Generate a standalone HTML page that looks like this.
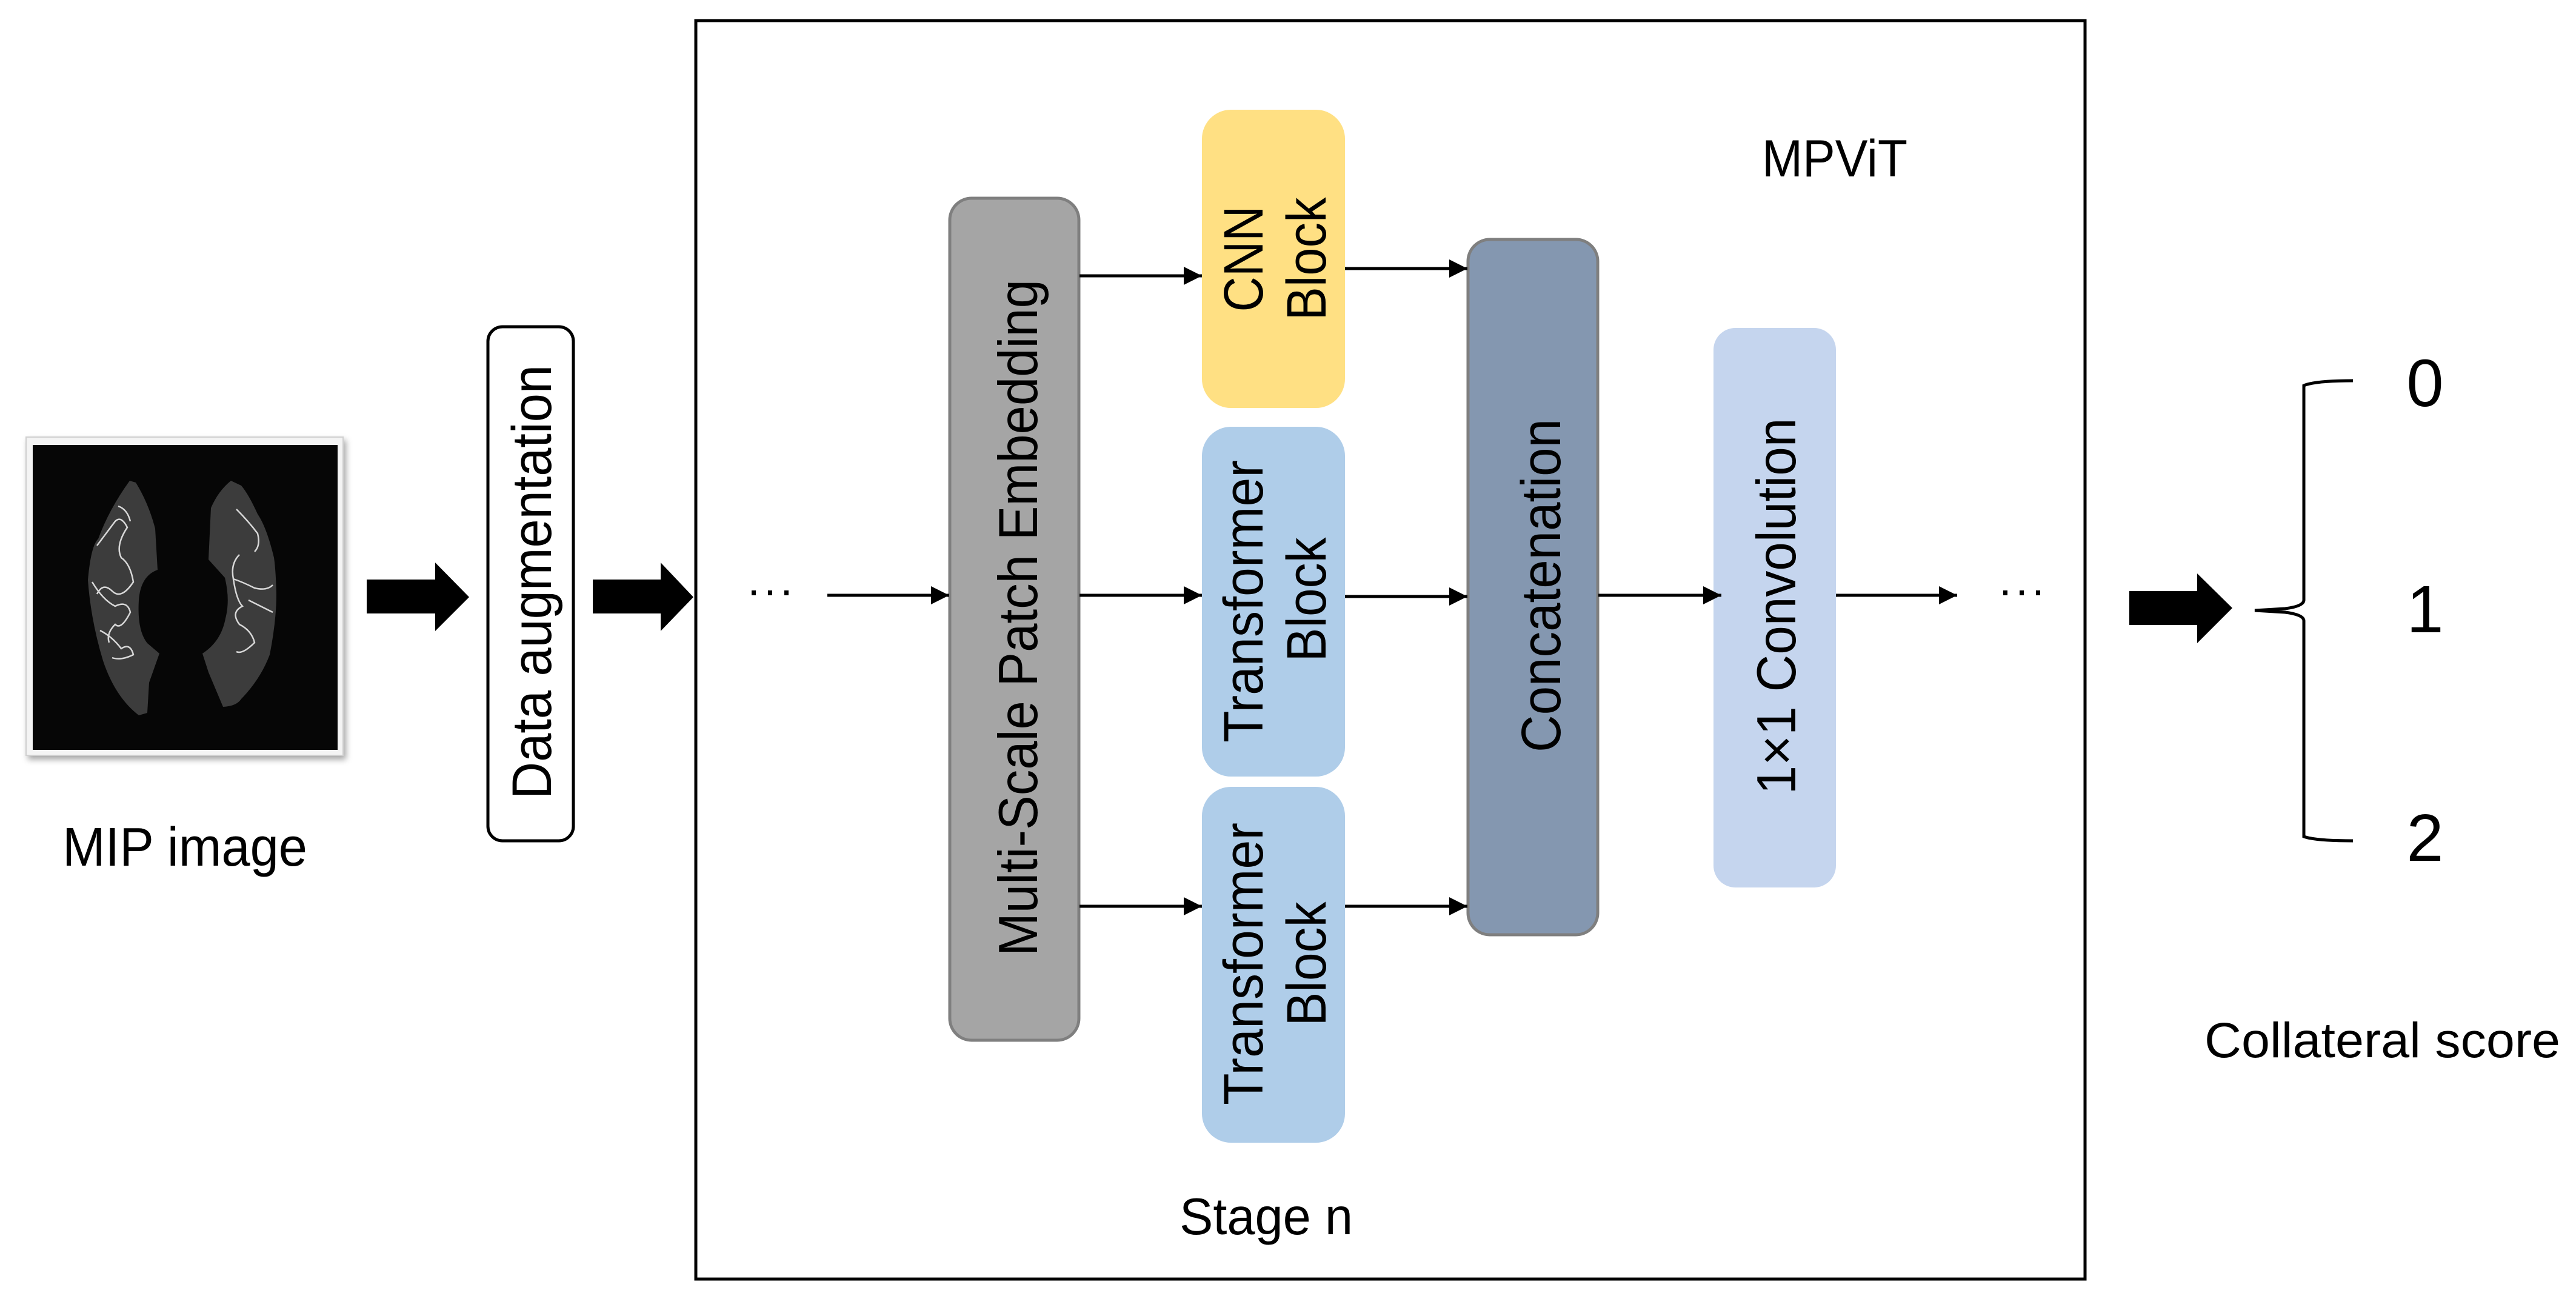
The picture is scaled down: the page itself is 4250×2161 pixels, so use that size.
<!DOCTYPE html>
<html><head><meta charset="utf-8"><style>
html,body{margin:0;padding:0;background:#fff;}
svg{display:block;}
text{font-family:"Liberation Sans",Arial,sans-serif;fill:#000;}
</style></head><body>
<svg width="4250" height="2161" viewBox="0 0 4250 2161" xmlns="http://www.w3.org/2000/svg">
<defs>
<marker id="ah" markerWidth="6" markerHeight="6" refX="6" refY="3" orient="auto" markerUnits="strokeWidth">
<path d="M0,0 L6,3 L0,6 Z" fill="#000"/>
</marker>
<filter id="sh" x="-5%" y="-5%" width="115%" height="115%"><feDropShadow dx="4" dy="6" stdDeviation="5" flood-color="#000" flood-opacity="0.35"/></filter>
</defs>
<rect width="4250" height="2161" fill="#fff"/>

<!-- MIP image -->
<rect x="43" y="721" width="523" height="525" fill="#f4f4f4" stroke="#d0d0d0" stroke-width="2" filter="url(#sh)"/>
<rect x="54" y="734" width="503" height="503" fill="#060606"/>
<path d="M214,793 L224,796 Q245,830 256,872 L260,940 Q232,950 229,990 Q226,1040 243,1061 L263,1078 L246,1126 L243,1176 L229,1180 Q190,1150 170,1090 Q150,1024 145,957 Q150,900 162,889 Q180,840 214,793 Z" fill="#3c3c3c"/>
<path d="M381,793 Q360,810 348,838 L344,923 L371,953 Q380,990 372,1020 Q365,1058 334,1078 L344,1109 L368,1166 Q390,1165 398,1153 Q430,1120 445,1080 Q456,1024 456,980 Q455,940 452,920 Q440,870 425,848 Q410,815 398,801 Z" fill="#3c3c3c"/>
<g fill="none" stroke="#d8d8d8" stroke-width="2.5">
<path d="M160,900 Q175,880 190,860 Q200,850 210,870 Q190,900 200,920 Q215,930 220,960 Q200,990 185,975 Q170,960 160,980"/>
<path d="M152,960 Q170,990 190,1000 Q210,990 215,1010 Q200,1040 190,1030 Q175,1045 180,1060"/>
<path d="M165,1040 Q185,1050 200,1070 Q215,1060 220,1080 Q200,1090 185,1085"/>
<path d="M195,835 Q210,840 215,860"/>
<path d="M390,840 Q410,860 425,880 Q430,900 420,910"/>
<path d="M395,915 Q380,930 385,955 Q400,960 420,970 Q440,975 450,965"/>
<path d="M385,955 Q390,990 400,1000 Q380,1010 395,1030 Q415,1040 420,1060 Q400,1080 390,1075"/>
<path d="M410,990 Q430,1000 450,1010"/>
</g>

<!-- Label MIP -->
<text x="103" y="1428" font-size="90" textLength="404" lengthAdjust="spacingAndGlyphs">MIP image</text>

<!-- Thick arrow 1 -->
<path d="M605,956 L718,956 L718,928 L774,985 L718,1041 L718,1012 L605,1012 Z" fill="#000"/>
<!-- Data augmentation box -->
<rect x="805" y="539" width="141" height="848" rx="24" fill="#fff" stroke="#000" stroke-width="5"/>
<text transform="translate(876,960) rotate(-90)" y="33" text-anchor="middle" font-size="92" textLength="716" lengthAdjust="spacingAndGlyphs">Data augmentation</text>
<!-- Thick arrow 2 -->
<path d="M978,956 L1090,956 L1090,928 L1144,985 L1090,1041 L1090,1012 L978,1012 Z" fill="#000"/>

<!-- Main frame -->
<rect x="1148" y="34" width="2292" height="2076" fill="none" stroke="#000" stroke-width="5"/>
<text x="2907" y="291" font-size="86" textLength="240" lengthAdjust="spacingAndGlyphs">MPViT</text>
<text x="1946" y="2036" font-size="85" textLength="286" lengthAdjust="spacingAndGlyphs">Stage n</text>

<!-- dots -->
<g fill="#000">
<rect x="1240" y="974" width="7" height="8"/><rect x="1267" y="974" width="7" height="8"/><rect x="1294" y="974" width="7" height="8"/>
<rect x="3305" y="974" width="7" height="8"/><rect x="3332" y="974" width="7" height="8"/><rect x="3359" y="974" width="7" height="8"/>
</g>

<!-- Multi-Scale Patch Embedding -->
<rect x="1567" y="327" width="213" height="1389" rx="36" fill="#a5a5a5" stroke="#7f7f7f" stroke-width="5"/>
<text transform="translate(1678,1019) rotate(-90)" y="33" text-anchor="middle" font-size="91" textLength="1116" lengthAdjust="spacingAndGlyphs">Multi-Scale Patch Embedding</text>

<!-- CNN block -->
<rect x="1983" y="181" width="236" height="492" rx="48" fill="#ffe083"/>
<text transform="translate(2050,427) rotate(-90)" y="33" text-anchor="middle" font-size="92" textLength="175" lengthAdjust="spacingAndGlyphs">CNN</text>
<text transform="translate(2154,427) rotate(-90)" y="33" text-anchor="middle" font-size="92" textLength="203" lengthAdjust="spacingAndGlyphs">Block</text>

<!-- Transformer 1 -->
<rect x="1983" y="704" width="236" height="577" rx="48" fill="#afcde9"/>
<text transform="translate(2050,992) rotate(-90)" y="33" text-anchor="middle" font-size="92" textLength="466" lengthAdjust="spacingAndGlyphs">Transformer</text>
<text transform="translate(2154,989) rotate(-90)" y="33" text-anchor="middle" font-size="92" textLength="205" lengthAdjust="spacingAndGlyphs">Block</text>

<!-- Transformer 2 -->
<rect x="1983" y="1298" width="236" height="587" rx="48" fill="#afcde9"/>
<text transform="translate(2050,1590) rotate(-90)" y="33" text-anchor="middle" font-size="92" textLength="466" lengthAdjust="spacingAndGlyphs">Transformer</text>
<text transform="translate(2154,1590) rotate(-90)" y="33" text-anchor="middle" font-size="92" textLength="205" lengthAdjust="spacingAndGlyphs">Block</text>

<!-- Concatenation -->
<rect x="2422" y="395" width="214" height="1147" rx="36" fill="#8497b0" stroke="#7f7f7f" stroke-width="5"/>
<text transform="translate(2541,966) rotate(-90)" y="33" text-anchor="middle" font-size="92" textLength="550" lengthAdjust="spacingAndGlyphs">Concatenation</text>

<!-- 1x1 Convolution -->
<rect x="2827" y="541" width="202" height="923" rx="36" fill="#c5d5ee"/>
<text transform="translate(2929,1000) rotate(-90)" y="33" text-anchor="middle" font-size="91" textLength="621" lengthAdjust="spacingAndGlyphs">1×1 Convolution</text>

<!-- connector arrows -->
<g stroke="#000" stroke-width="5" fill="none" marker-end="url(#ah)">
<line x1="1365" y1="982" x2="1566" y2="982"/>
<line x1="1781" y1="455" x2="1983" y2="455"/>
<line x1="1781" y1="982" x2="1983" y2="982"/>
<line x1="1781" y1="1495" x2="1983" y2="1495"/>
<line x1="2219" y1="443" x2="2421" y2="443"/>
<line x1="2219" y1="984" x2="2421" y2="984"/>
<line x1="2219" y1="1495" x2="2421" y2="1495"/>
<line x1="2637" y1="982" x2="2840" y2="982"/>
<line x1="3029" y1="982" x2="3229" y2="982"/>
</g>

<!-- Thick arrow 3 -->
<path d="M3513,975 L3625,975 L3625,946 L3683,1003 L3625,1061 L3625,1031 L3513,1031 Z" fill="#000"/>

<!-- Brace -->
<path d="M3882,628 Q3820,628 3801,636 L3801,990 Q3801,1000 3770,1004 L3720,1007 L3770,1010 Q3801,1014 3801,1024 L3801,1380 Q3820,1387 3882,1387" fill="none" stroke="#000" stroke-width="5"/>
<text x="4001" y="670" font-size="110" text-anchor="middle">0</text>
<text x="4001" y="1043" font-size="110" text-anchor="middle">1</text>
<text x="4001" y="1420" font-size="110" text-anchor="middle">2</text>
<text x="3637" y="1744" font-size="82" textLength="587" lengthAdjust="spacingAndGlyphs">Collateral score</text>
</svg>
</body></html>
